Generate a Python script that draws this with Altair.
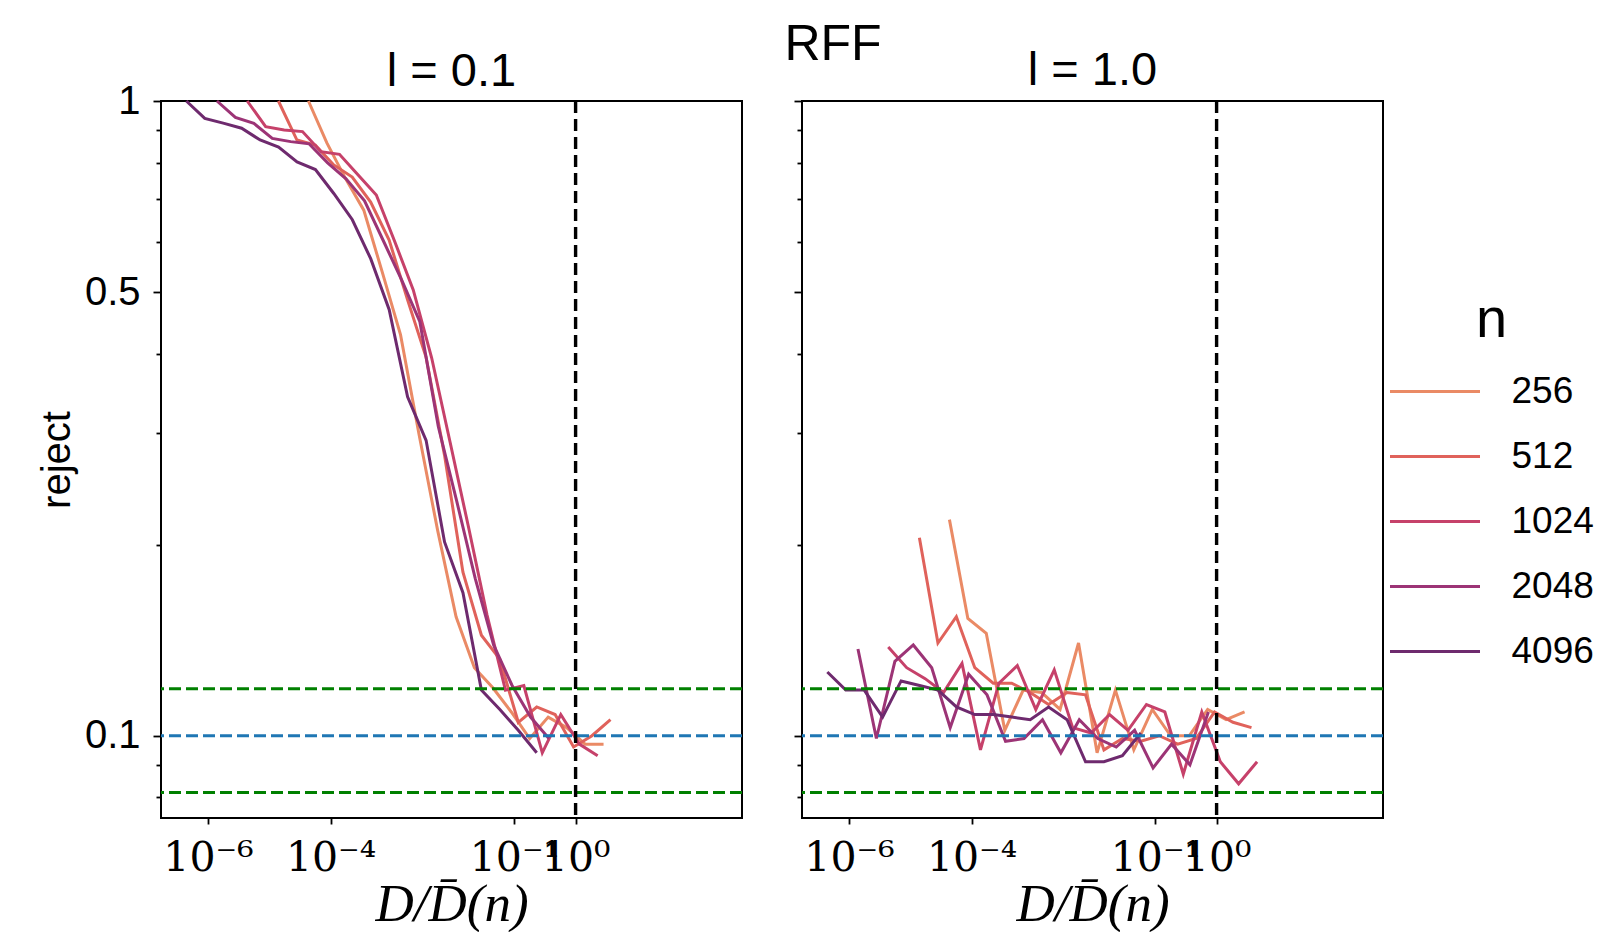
import altair as alt
import pandas as pd

# ---------------- data ----------------
n_labels = ["256", "512", "1024", "2048", "4096"]
n_colors = ["#ea8a65", "#e0625b", "#c6416a", "#9c3476", "#6e2a6e"]

# D / Dbar(n) grid of each n (D doubles from one point to the next)
grid_256 = [4.36e-5, 8.71e-5, 1.74e-4, 3.49e-4, 6.97e-4, 1.39e-3, 2.79e-3, 5.58e-3, 1.12e-2,
            2.23e-2, 4.46e-2, 8.92e-2, 0.178, 0.357, 0.714, 1.43, 2.86]
grid_512 = [1.41e-5, 2.83e-5, 5.65e-5, 1.13e-4, 2.26e-4, 4.52e-4, 9.05e-4, 1.81e-3, 3.62e-3,
            7.24e-3, 1.45e-2, 2.90e-2, 5.79e-2, 0.116, 0.232, 0.463, 0.927, 1.85, 3.71]
grid_1024 = [4.37e-6, 8.73e-6, 1.75e-5, 3.49e-5, 6.99e-5, 1.40e-4, 2.80e-4, 5.59e-4, 1.12e-3,
             2.24e-3, 4.47e-3, 8.95e-3, 1.79e-2, 3.58e-2, 7.16e-2, 0.143, 0.286, 0.573, 1.15,
             2.29, 4.58]
grid_2048 = [1.40e-6, 2.80e-6, 5.61e-6, 1.12e-5, 2.24e-5, 4.49e-5, 8.97e-5, 1.79e-4, 3.59e-4,
             7.18e-4, 1.44e-3, 2.87e-3, 5.74e-3, 1.15e-2, 2.30e-2, 4.59e-2, 9.19e-2, 0.184,
             0.367, 0.735]
grid_4096 = [4.43e-7, 8.86e-7, 1.77e-6, 3.54e-6, 7.09e-6, 1.42e-5, 2.84e-5, 5.67e-5, 1.13e-4,
             2.27e-4, 4.54e-4, 9.07e-4, 1.81e-3, 3.63e-3, 7.26e-3, 1.45e-2, 2.90e-2, 5.81e-2,
             0.116, 0.232]

# panel l = 0.1 : reject rate
l01_256 = [1.0, 0.859, 0.756, 0.673, 0.538, 0.428, 0.298, 0.211, 0.154, 0.128, 0.119, 0.109,
           0.099, 0.107, 0.103, 0.097, 0.097]
l01_512 = [1.0, 0.868, 0.852, 0.793, 0.759, 0.693, 0.604, 0.486, 0.395, 0.277, 0.181, 0.144,
           0.132, 0.105, 0.111, 0.108, 0.096, 0.100, 0.106]
l01_1024 = [1.0, 0.911, 0.900, 0.895, 0.832, 0.824, 0.765, 0.711, 0.600, 0.504, 0.394, 0.290,
            0.213, 0.155, 0.118, 0.120, 0.094, 0.108, 0.097, 0.093]
l01_2048 = [1.0, 0.942, 0.922, 0.873, 0.863, 0.856, 0.799, 0.754, 0.696, 0.604, 0.523, 0.449,
            0.307, 0.234, 0.177, 0.139, 0.120, 0.107, 0.099]
l01_4096 = [1.0, 0.939, 0.923, 0.906, 0.868, 0.846, 0.802, 0.780, 0.715, 0.650, 0.564, 0.469,
            0.342, 0.292, 0.202, 0.168, 0.118, 0.110, 0.102, 0.094]

# panel l = 1.0 : reject rate
l10_256 = [0.219, 0.153, 0.145, 0.102, 0.118, 0.117, 0.110, 0.140, 0.094, 0.118, 0.095, 0.110,
           0.100, 0.100, 0.110, 0.106, 0.109]
l10_512 = [0.205, 0.140, 0.154, 0.128, 0.121, 0.121, 0.117, 0.112, 0.117, 0.116, 0.095, 0.099,
           0.098, 0.100, 0.097, 0.099, 0.109, 0.105, 0.103]
l10_1024 = [0.138, 0.128, 0.123, 0.117, 0.130, 0.095, 0.121, 0.129, 0.110, 0.127, 0.103, 0.101,
            0.108, 0.102, 0.112, 0.109, 0.087, 0.109, 0.091, 0.084, 0.091]
l10_2048 = [0.137, 0.099, 0.131, 0.139, 0.128, 0.103, 0.125, 0.116, 0.098, 0.099, 0.106, 0.094,
            0.106, 0.099, 0.096, 0.102, 0.089, 0.097, 0.090, 0.109]
l10_4096 = [0.126, 0.118, 0.118, 0.107, 0.122, 0.120, 0.118, 0.111, 0.108, 0.108, 0.107, 0.106,
            0.111, 0.106, 0.091, 0.091, 0.093, 0.101]

alpha_level = [0.1]
ci_bounds = [0.1186, 0.0814]
d_ref = [1.0]

x_ticks = [1e-6, 1e-4, 1e-1, 1.0]
y_ticks = [0.08, 0.09, 0.1, 0.2, 0.3, 0.4, 0.5, 0.6, 0.7, 0.8, 0.9, 1.0]
x_domain = [1.71e-7, 520]
y_domain = [0.0742, 1.0]

grids = [grid_256, grid_512, grid_1024, grid_2048, grid_4096]


def series_frame(values_per_n):
    rows = []
    for lab, grid, vals in zip(n_labels, grids, values_per_n):
        for k, (xv, yv) in enumerate(zip(grid, vals)):
            rows.append({"n": lab, "x": xv, "reject": yv, "k": k})
    return pd.DataFrame(rows)


df_l01 = series_frame([l01_256, l01_512, l01_1024, l01_2048, l01_4096])
df_l10 = series_frame([l10_256, l10_512, l10_1024, l10_2048, l10_4096])
df_alpha = pd.DataFrame({"reject": alpha_level})
df_ci = pd.DataFrame({"reject": ci_bounds})
df_vref = pd.DataFrame({"x": d_ref})

# ---------------- styling ----------------
SANS = "Liberation Sans"
SERIF = "Liberation Serif"
SERIF_TICK = "DejaVu Serif"

x_scale = alt.Scale(type="log", domain=x_domain, nice=False)
y_scale = alt.Scale(type="log", domain=y_domain, nice=False)

x_label_expr = ("datum.value > 0.5 ? '10\u2070' : datum.value > 0.05 ? '10\u207b\u00b9' : "
                "datum.value > 5e-5 ? '10\u207b\u2074' : '10\u207b\u2076'")
y_label_expr = ("abs(datum.value - 1) < 1e-6 ? '1' : abs(datum.value - 0.5) < 1e-6 ? '0.5' : "
                "abs(datum.value - 0.1) < 1e-6 ? '0.1' : ''")
major_test = ("abs(datum.value - 1) < 1e-6 || abs(datum.value - 0.5) < 1e-6 || "
              "abs(datum.value - 0.1) < 1e-6")

x_axis = alt.Axis(values=x_ticks, labelExpr=x_label_expr, title="D/D\u0304(n)",
                  titleFont=SERIF, titleFontStyle="italic", titleFontWeight="normal",
                  titleFontSize=53, labelFont=SERIF_TICK, labelFontSize=41, tickSize=6,
                  labelPadding=14, titlePadding=0, labelOverlap=False, labelFlush=False,
                  grid=False, domain=False, tickColor="black", tickWidth=1.8,
                  labelColor="black", titleColor="black")


def y_axis(show_labels):
    return alt.Axis(values=y_ticks, labelExpr=y_label_expr, labels=show_labels,
                    title="reject" if show_labels else None,
                    titleFont=SANS, titleFontWeight="normal", titleFontSize=40,
                    titlePadding=7, labelFont=SANS, labelFontSize=40, labelPadding=13,
                    tickSize={"condition": {"test": major_test, "value": 8}, "value": 5},
                    labelOverlap=False, labelFlush=False, grid=False, domain=False,
                    tickColor="black", tickWidth=1.8, labelColor="black",
                    titleColor="black")


legend = alt.Legend(title="n", orient="none", legendX=1227.5, legendY=192,
                    symbolType="stroke", symbolSize=8100, symbolStrokeWidth=3,
                    labelFont=SANS, labelFontSize=37, labelOffset=30, labelColor="black",
                    titleFont=SANS, titleFontSize=56, titleFontWeight="normal",
                    titleAnchor="middle", titleColor="black", rowPadding=-7,
                    titlePadding=-4, padding=0, labelLimit=400)

color_scale = alt.Scale(domain=n_labels, range=n_colors)


def panel(df, title, show_labels, title_offset):
    ya = y_axis(show_labels)
    lines = alt.Chart(df).mark_line(strokeWidth=3).encode(
        x=alt.X("x:Q", scale=x_scale, axis=x_axis),
        y=alt.Y("reject:Q", scale=y_scale, axis=ya),
        color=alt.Color("n:N", scale=color_scale, legend=legend, sort=n_labels),
        order=alt.Order("k:Q"),
    )
    ci = alt.Chart(df_ci).mark_rule(color="#008000", strokeWidth=3,
                                    strokeDash=[12, 5]).encode(
        y=alt.Y("reject:Q", scale=y_scale, axis=ya))
    alpha = alt.Chart(df_alpha).mark_rule(color="#1f77b4", strokeWidth=3,
                                          strokeDash=[12, 5]).encode(
        y=alt.Y("reject:Q", scale=y_scale, axis=ya))
    vref = alt.Chart(df_vref).mark_rule(color="black", strokeWidth=3.4,
                                        strokeDash=[12, 6]).encode(
        x=alt.X("x:Q", scale=x_scale, axis=x_axis))
    return alt.layer(lines, ci, alpha, vref).properties(
        width=581, height=717,
        title=alt.TitleParams(title, fontSize=47, font=SANS, fontWeight="normal",
                              color="black", offset=title_offset),
    )


left = panel(df_l01, "l = 0.1", True, -15)
right = panel(df_l10, "l = 1.0", False, 4)

chart = alt.hconcat(left, right, spacing=60, bounds="flush").properties(
    title=alt.TitleParams("RFF", fontSize=50, font=SANS, fontWeight="normal",
                          color="black", anchor="start", dx=748, offset=-24),
    padding={"left": 28, "top": 12, "right": 0, "bottom": 0},
).configure_view(stroke="black", strokeWidth=2).configure_axis(grid=False)

chart.save("out.html", embed_options={"renderer": "svg", "actions": False})
